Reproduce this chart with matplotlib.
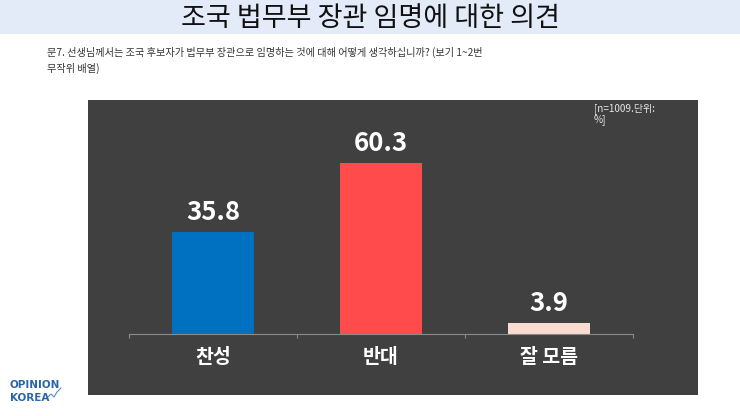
import matplotlib
matplotlib.use("Agg")
import matplotlib.pyplot as plt
from matplotlib.patches import Rectangle
from matplotlib.lines import Line2D

plt.rcParams['font.family'] = ['Noto Sans CJK KR', 'DejaVu Sans']

# data
categories = ["찬성", "반대", "잘 모름"]
values = [35.8, 60.3, 3.9]
bar_colors = ["#0070c0", "#ff4b4b", "#f8dcd0"]

W, H = 740, 416
fig = plt.figure(figsize=(W / 100, H / 100), dpi=100)
fig.patch.set_facecolor("white")

# header band
fig.patches.append(Rectangle((0, 1 - 34 / H), 1, 34 / H, transform=fig.transFigure,
                             facecolor="#e3ebf8", edgecolor="none", zorder=0))
fig.text(0.5, 1 - 18 / H, "조국 법무부 장관 임명에 대한 의견", ha="center", va="center",
         fontsize=19.5, color="#111111")

# question text
fig.text(47 / W, 1 - 52 / H,
         "문7. 선생님께서는 조국 후보자가 법무부 장관으로 임명하는 것에 대해 어떻게 생각하십니까? (보기 1~2번",
         ha="left", va="center", fontsize=7.3, color="#333333")
fig.text(47 / W, 1 - 68 / H, "무작위 배열)", ha="left", va="center", fontsize=7.3, color="#333333")

# dark panel
px0, px1, py0, py1 = 88, 698, 100, 395
fig.patches.append(Rectangle((px0 / W, 1 - py1 / H), (px1 - px0) / W, (py1 - py0) / H,
                             transform=fig.transFigure, facecolor="#404040",
                             edgecolor="none", zorder=0))
fig.text(594 / W, 1 - 103 / H, "[n=1009.단위:\n%]", ha="left", va="top",
         fontsize=7.2, color="#e6e6e6", linespacing=1.0)

# chart axes
base_y = 334
ax = fig.add_axes([129 / W, 1 - base_y / H, 504 / W, 198.5 / H])
ax.set_zorder(2)
ax.set_facecolor("none")
x = range(len(categories))
ax.bar(x, values, width=0.49, color=bar_colors, zorder=2)
ax.set_xlim(-0.5, 2.5)
ax.set_ylim(0, 70)
for xi, v in zip(x, values):
    ax.text(xi, v + 2.2, f"{v:.1f}", ha="center", va="bottom", fontsize=18.5,
            fontweight="bold", color="white")
for s in ["top", "right", "left"]:
    ax.spines[s].set_visible(False)
ax.spines["bottom"].set_color("#8a8a8a")
ax.spines["bottom"].set_linewidth(0.8)
ax.set_yticks([])
ax.set_xticks([-0.5, 0.5, 1.5, 2.5], minor=False)
ax.set_xticklabels([])
ax.tick_params(axis="x", direction="out", length=3, color="#8a8a8a", width=0.8)
for xi, c in zip(x, categories):
    ax.text(xi, -0.12, c, transform=ax.get_xaxis_transform(), ha="center", va="center",
            fontsize=14, fontweight="bold", color="white")

# logo
fig.text(10 / W, 1 - 385 / H, "OPINION", ha="left", va="center", fontsize=7.5,
         fontweight="bold", color="#2b65a8", family="DejaVu Sans")
fig.text(10 / W, 1 - 398 / H, "KOREA", ha="left", va="center", fontsize=7.5,
         fontweight="bold", color="#2b65a8", family="DejaVu Sans")
logo_x = [47, 51, 54, 57, 61]
logo_y = [398, 394, 397, 392, 388]
fig.lines.append(Line2D([v / W for v in logo_x], [1 - v / H for v in logo_y],
                        transform=fig.transFigure, color="#5a8fc8", lw=0.8))

fig.savefig("out.png", dpi=100, facecolor="white")
